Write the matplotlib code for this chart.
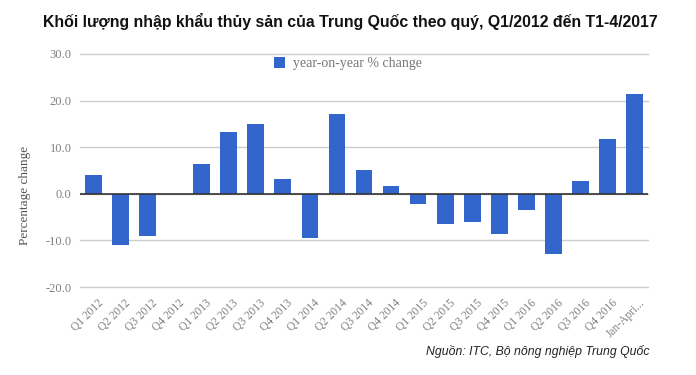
import matplotlib
matplotlib.use("Agg")
import matplotlib.pyplot as plt
import matplotlib.transforms as mtransforms
import numpy as np

categories = ["Q1 2012", "Q2 2012", "Q3 2012", "Q4 2012", "Q1 2013", "Q2 2013",
              "Q3 2013", "Q4 2013", "Q1 2014", "Q2 2014", "Q3 2014", "Q4 2014",
              "Q1 2015", "Q2 2015", "Q3 2015", "Q4 2015", "Q1 2016", "Q2 2016",
              "Q3 2016", "Q4 2016", "Jan-Apri..."]
values = [4.1, -10.9, -9.0, 0.0, 6.5, 13.3, 15.0, 3.1, -9.5, 17.1, 5.2, 1.6,
          -2.2, -6.5, -6.0, -8.6, -3.5, -12.9, 2.8, 11.8, 21.5]
yticks = [-20, -10, 0, 10, 20, 30]
series_name = "year-on-year % change"
title = "Khối lượng nhập khẩu thủy sản của Trung Quốc theo quý, Q1/2012 đến T1-4/2017"
source = "Nguồn: ITC, Bộ nông nghiệp Trung Quốc"

fig = plt.figure(figsize=(6.96, 3.75), dpi=100)
ax = fig.add_axes([80/696, 1-287/375, 568/696, 233/375])

x = np.arange(len(categories))
ax.bar(x, values, width=0.62, color="#3366cc", zorder=3, label=series_name)
ax.set_xlim(-0.5, len(categories)-0.5)
ax.set_ylim(-20, 30)
ax.set_yticks(yticks)
ax.set_yticklabels([f"{v:.1f}" for v in yticks], family="Liberation Serif",
                   fontsize=9, color="#808080")
for v in yticks:
    ax.axhline(v, color="#cccccc", linewidth=1, zorder=0, clip_on=False)
ax.axhline(0, color="#333333", linewidth=1.2, zorder=4)
ax.tick_params(axis="both", length=0)
ax.tick_params(axis="y", pad=6)
for s in ax.spines.values():
    s.set_visible(False)

ax.set_xticks(x)
ax.set_xticklabels(categories, rotation=45, ha="right", rotation_mode="anchor",
                   family="Liberation Serif", fontsize=8.3, color="#808080")
ax.tick_params(axis="x", pad=7)
offset = mtransforms.ScaledTranslation(4/100, 0, fig.dpi_scale_trans)
for lbl in ax.get_xticklabels():
    lbl.set_transform(lbl.get_transform() + offset)

fig.text(25/696, 1-195/375, "Percentage change", rotation=90, ha="center", va="center",
         family="Liberation Serif", fontsize=9.5, color="#555555")

leg = ax.legend(loc="upper center", bbox_to_anchor=(0.472, 1.01), frameon=False,
                prop={"family": "Liberation Serif", "size": 10},
                handlelength=0.8, handleheight=0.8, handletextpad=0.6,
                borderaxespad=0.0)
for t in leg.get_texts():
    t.set_color("#777777")

fig.text(350/696, 1-22/375, title, ha="center", va="center",
         family="Liberation Sans", fontsize=11.4, fontweight="bold", color="#111111")
fig.text(650/696, 1-352/375, source, ha="right", va="center",
         family="Liberation Sans", fontsize=8.8, style="italic", color="#222222")

fig.savefig("out.png", dpi=100)
